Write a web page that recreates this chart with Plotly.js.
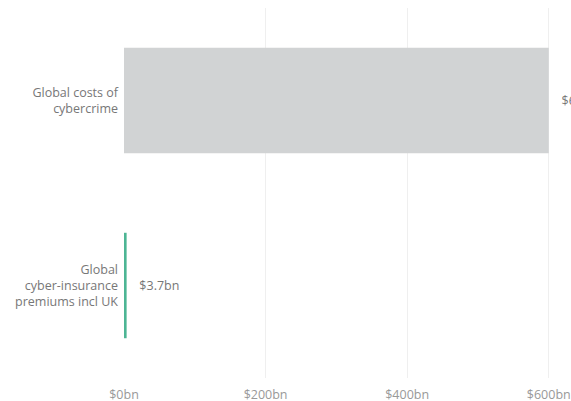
<!DOCTYPE html>
<html><head><meta charset="utf-8">
<script src="https://cdn.plot.ly/plotly-3.0.1.min.js"></script>
<style>html,body{margin:0;padding:0;background:#fff;overflow:hidden}</style>
</head><body><div id="chart" style="width:571px;height:401px"></div>
<script>
const categories = ["Global costs of<br>cybercrime", "Global<br>cyber-insurance<br>premiums incl UK"];
const values = [600, 3.7];
const valueLabels = ["$600bn", "$3.7bn"];
const tickVals = [0, 200, 400, 600];
const tickLabels = ["$0bn", "$200bn", "$400bn", "$600bn"];
const colors = ["#d1d3d4", "#4db594"];

Plotly.newPlot("chart", [{
  type: "bar", orientation: "h",
  x: values, y: categories,
  marker: {color: colors},
  width: 0.57,
  text: valueLabels, texttemplate: "\u00a0\u00a0\u00a0%{text}",
  textposition: "outside", cliponaxis: false,
  textfont: {family: "Open Sans, sans-serif", size: 12.5, color: "#777"},
  hoverinfo: "none"
}], {
  width: 571, height: 401,
  margin: {l: 124, r: 1, t: 8, b: 23, pad: 0},
  paper_bgcolor: "#fff", plot_bgcolor: "#fff",
  showlegend: false,
  font: {family: "Open Sans, sans-serif", size: 12.5, color: "#777"},
  xaxis: {range: [0, 630], tickvals: tickVals, ticktext: tickLabels,
    showgrid: true, gridcolor: "#efefef", zeroline: false, showline: false,
    ticks: "", ticklabelstandoff: 7, tickfont: {size: 12.5, color: "#999"}, fixedrange: true},
  yaxis: {autorange: "reversed", ticks: "", showline: false, showgrid: false,
    ticklabelstandoff: 5, tickfont: {size: 12.5, color: "#777"}, fixedrange: true}
}, {displayModeBar: false, staticPlot: true});
</script></body></html>
